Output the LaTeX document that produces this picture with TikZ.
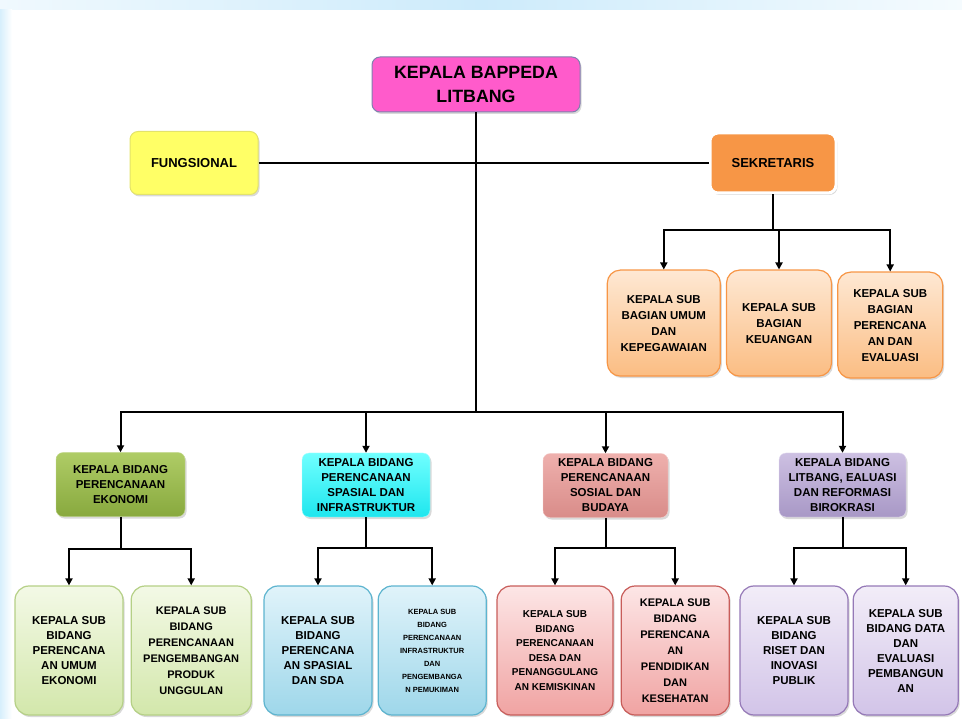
\documentclass[tikz,border=0pt]{standalone}
\usepackage{fontspec}
\setmainfont{Liberation Sans}
\usetikzlibrary{arrows.meta,positioning,shadows}
\definecolor{kepala}{HTML}{FF5BCB}
\definecolor{kepalaline}{HTML}{7F80AE}
\definecolor{fungsi}{HTML}{FFFF66}
\definecolor{fungsiline}{HTML}{E3E36A}
\definecolor{sekre}{HTML}{F79646}
\definecolor{bagtop}{HTML}{FEE8D3}
\definecolor{bagbot}{HTML}{FBBD83}
\definecolor{ekotop}{HTML}{AFCC66}
\definecolor{ekobot}{HTML}{88A93E}
\definecolor{spatop}{HTML}{70FFFF}
\definecolor{spabot}{HTML}{1EE6EE}
\definecolor{sostop}{HTML}{EEB0AD}
\definecolor{sosbot}{HTML}{D98C89}
\definecolor{littop}{HTML}{CDC0E2}
\definecolor{litbot}{HTML}{A898C6}
\definecolor{sekotop}{HTML}{F3F9E6}
\definecolor{sekobot}{HTML}{D3E7AB}
\definecolor{sekoline}{HTML}{B5D086}
\definecolor{sspatop}{HTML}{E0F3FA}
\definecolor{sspabot}{HTML}{9ED7EA}
\definecolor{sspaline}{HTML}{5DB4CF}
\definecolor{ssostop}{HTML}{FDE6E6}
\definecolor{ssosbot}{HTML}{F0A3A2}
\definecolor{ssosline}{HTML}{C85D5A}
\definecolor{slittop}{HTML}{F2EDF8}
\definecolor{slitbot}{HTML}{D2C4E8}
\definecolor{slitline}{HTML}{9579B7}
\definecolor{band}{HTML}{CDEBFB}
\tikzset{box/.style={rounded corners=8pt,align=center,text=black,font=\bfseries\fontsize{11.5}{15}\selectfont,inner sep=2pt,drop shadow={opacity=.3,shadow xshift=1.5pt,shadow yshift=-2pt}},head/.style={box,fill=kepala,draw=kepalaline,line width=1pt,minimum width=208pt,minimum height=55pt,font=\bfseries\fontsize{17.8}{24}\selectfont},staf/.style={box,minimum height=60pt,minimum width=126pt,font=\bfseries\fontsize{13}{16}\selectfont},subbag/.style={box,rounded corners=13pt,draw=sekre,line width=1.2pt,top color=bagtop,bottom color=bagbot,minimum width=105pt,minimum height=106pt,font=\bfseries\fontsize{11.5}{16}\selectfont},bidang/.style={box,minimum width=127pt,minimum height=64pt,rounded corners=7pt},subbid/.style={box,rounded corners=14pt,line width=1.2pt,minimum width=108pt,minimum height=129pt},link/.style={line width=2pt},arr/.style={link,-{Triangle[length=7pt,width=7pt]}}}
\begin{document}
\begin{tikzpicture}[x=1pt,y=1pt]
\useasboundingbox (0,0) rectangle (962,-719);
\shade[left color=band!30,right color=band] (0,0) rectangle (481,-10);\shade[left color=band,right color=band!20] (481,0) rectangle (962,-10);
\shade[left color=band!80,right color=white] (0,-10) rectangle (12,-719);
\node[head] (kepala) at (476,-84.5) {KEPALA BAPPEDA\\LITBANG};
\node[staf,fill=fungsi,draw=fungsiline,line width=1pt,minimum width=128pt,minimum height=63pt] (fung) at (194,-163) {FUNGSIONAL};
\node[staf,fill=sekre,draw=white,line width=3pt] (sek) at (773,-163) {SEKRETARIS};
\node[subbag,below=75pt of sek,xshift=6pt] (sb2) {KEPALA SUB\\BAGIAN\\KEUANGAN};\node[subbag,left=5pt of sb2,minimum width=113pt] (sb1) {KEPALA SUB\\BAGIAN UMUM\\DAN\\KEPEGAWAIAN};\node[subbag,right=5pt of sb2,yshift=-2pt] (sb3) {KEPALA SUB\\BAGIAN\\PERENCANA\\AN DAN\\EVALUASI};
\node[bidang,top color=ekotop,bottom color=ekobot,draw=ekotop!70!white,minimum width=129pt] (bE) at (120.5,-484.5) {KEPALA BIDANG\\PERENCANAAN\\EKONOMI};\node[bidang,top color=spatop,bottom color=spabot,draw=spatop!60!white,minimum width=128pt] (bS) at (366,-485) {KEPALA BIDANG\\PERENCANAAN\\SPASIAL DAN\\INFRASTRUKTUR};\node[bidang,top color=sostop,bottom color=sosbot,draw=sostop!60!white,minimum width=125pt] (bSo) at (605.5,-485.5) {KEPALA BIDANG\\PERENCANAAN\\SOSIAL DAN\\BUDAYA};\node[bidang,top color=littop,bottom color=litbot,draw=littop!60!white] (bL) at (842.5,-485) {KEPALA BIDANG\\LITBANG, EALUASI\\DAN REFORMASI\\BIROKRASI};
\node[subbid,top color=sekotop,bottom color=sekobot,draw=sekoline] (e1) at (69,-650.5) {KEPALA SUB\\BIDANG\\PERENCANA\\AN UMUM\\EKONOMI};\node[subbid,top color=sekotop,bottom color=sekobot,draw=sekoline,minimum width=120pt,right=7pt of e1,font=\bfseries\fontsize{11}{16}\selectfont] (e2) {KEPALA SUB\\BIDANG\\PERENCANAAN\\PENGEMBANGAN\\PRODUK\\UNGGULAN};
\node[subbid,top color=sspatop,bottom color=sspabot,draw=sspaline] (s1) at (318,-650.5) {KEPALA SUB\\BIDANG\\PERENCANA\\AN SPASIAL\\DAN SDA};\node[subbid,top color=sspatop,bottom color=sspabot,draw=sspaline,right=5pt of s1,font=\bfseries\fontsize{7.5}{13}\selectfont] (s2) {KEPALA SUB\\BIDANG\\PERENCANAAN\\INFRASTRUKTUR\\DAN\\PENGEMBANGA\\N PEMUKIMAN};
\node[subbid,top color=ssostop,bottom color=ssosbot,draw=ssosline,minimum width=116pt,font=\bfseries\fontsize{10}{14.5}\selectfont] (so1) at (555,-650.5) {KEPALA SUB\\BIDANG\\PERENCANAAN\\DESA DAN\\PENANGGULANG\\AN KEMISKINAN};\node[subbid,top color=ssostop,bottom color=ssosbot,draw=ssosline,right=7pt of so1,font=\bfseries\fontsize{11}{16}\selectfont] (so2) {KEPALA SUB\\BIDANG\\PERENCANA\\AN\\PENDIDIKAN\\DAN\\KESEHATAN};
\node[subbid,top color=slittop,bottom color=slitbot,draw=slitline] (l1) at (794,-650.5) {KEPALA SUB\\BIDANG\\RISET DAN\\INOVASI\\PUBLIK};\node[subbid,top color=slittop,bottom color=slitbot,draw=slitline,minimum width=105pt,right=4pt of l1] (l2) {KEPALA SUB\\BIDANG DATA\\DAN\\EVALUASI\\PEMBANGUN\\AN};
\coordinate (bus) at (476,-412);\coordinate[below=36pt of sek] (sekbus);
\coordinate[below=32pt of bE] (ebus);\coordinate[below=31pt of bS] (sbus);\coordinate[below=30pt of bSo] (sobus);\coordinate[below=31pt of bL] (lbus);
\draw[link] (fung) -- (sek);\draw[link] (kepala) -- (bus);
\draw[arr] (bus) -| (bE);\draw[arr] (bus) -| (bS);\draw[arr] (bus) -| (bSo);\draw[arr] (bus) -| (bL);
\draw[link] (sek) -- (sekbus);\draw[arr] (sekbus) -| (sb1);\draw[arr] (sekbus) -| (sb2);\draw[arr] (sekbus) -| (sb3);
\draw[link] (bE) -- (ebus);\draw[arr] (ebus) -| (e1);\draw[arr] (ebus) -| (e2);
\draw[link] (bS) -- (sbus);\draw[arr] (sbus) -| (s1);\draw[arr] (sbus) -| (s2);
\draw[link] (bSo) -- (sobus);\draw[arr] (sobus) -| (so1);\draw[arr] (sobus) -| (so2);
\draw[link] (bL) -- (lbus);\draw[arr] (lbus) -| (l1);\draw[arr] (lbus) -| (l2);
\end{tikzpicture}
\end{document}
